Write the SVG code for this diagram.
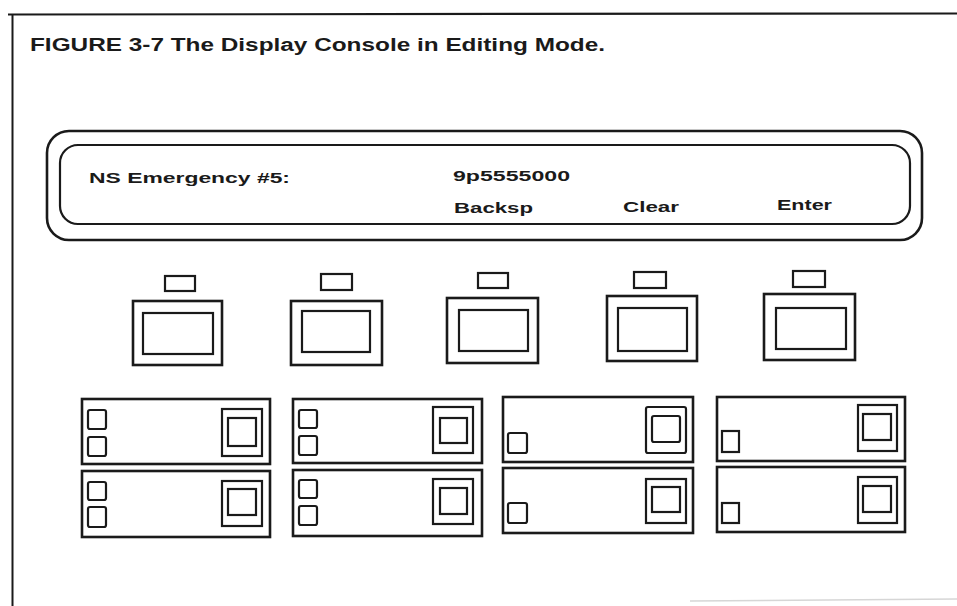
<svg xmlns="http://www.w3.org/2000/svg" width="957" height="606" viewBox="0 0 957 606">
<style>
  text { font-family: "Liberation Sans", Arial, sans-serif; fill: #1a1a1a; font-weight: bold; }
  .title { font-size: 18px; }
  .disp { font-size: 15.5px; }
  .ln { fill: none; stroke: #1a1a1a; }
  .o { fill: none; stroke: #1a1a1a; stroke-width: 2.6; }
  .i { fill: none; stroke: #1a1a1a; stroke-width: 2.2; }
</style>
<rect width="957" height="606" fill="#ffffff"/>
<g id="frame">
  <path class="ln" stroke-width="2.2" d="M8 14.5 L957 13.5"/>
  <path class="ln" stroke-width="2" d="M12.5 14 L12.5 606"/>
  <path fill="none" stroke="#d6d6d6" stroke-width="1.5" d="M690 601 L957 599"/>
</g>
<g id="title">
  <text class="title" x="30" y="51" textLength="575" lengthAdjust="spacingAndGlyphs">FIGURE 3-7  The Display Console in Editing Mode.</text>
</g>
<g id="display">
  <rect class="o" x="47" y="131" width="875" height="109" rx="22"/>
  <rect class="i" x="60" y="145" width="850" height="79" rx="18"/>
  <text class="disp" x="89" y="183" textLength="201" lengthAdjust="spacingAndGlyphs">NS Emergency #5:</text>
  <text class="disp" x="453" y="181" textLength="117" lengthAdjust="spacingAndGlyphs">9p5555000</text>
  <text class="disp" x="454" y="213" textLength="79" lengthAdjust="spacingAndGlyphs">Backsp</text>
  <text class="disp" x="623" y="212" textLength="56" lengthAdjust="spacingAndGlyphs">Clear</text>
  <text class="disp" x="777" y="210" textLength="55" lengthAdjust="spacingAndGlyphs">Enter</text>
</g>
<g id="softkey1">
  <rect class="i" x="165" y="276" width="30" height="15"/>
  <rect class="o" x="133" y="301" width="89" height="64"/>
  <rect class="i" x="143" y="313" width="70" height="41"/>
</g>
<g id="softkey2">
  <rect class="i" x="321" y="274" width="31" height="16"/>
  <rect class="o" x="291" y="301" width="91" height="64"/>
  <rect class="i" x="302" y="311" width="68" height="41"/>
</g>
<g id="softkey3">
  <rect class="i" x="478" y="273" width="30" height="15"/>
  <rect class="o" x="447" y="298" width="91" height="65"/>
  <rect class="i" x="459" y="310" width="69" height="41"/>
</g>
<g id="softkey4">
  <rect class="i" x="634" y="272" width="32" height="16"/>
  <rect class="o" x="607" y="296" width="90" height="65"/>
  <rect class="i" x="618" y="308" width="69" height="43"/>
</g>
<g id="softkey5">
  <rect class="i" x="793" y="271" width="32" height="16"/>
  <rect class="o" x="764" y="294" width="91" height="66"/>
  <rect class="i" x="776" y="308" width="70" height="41"/>
</g>
<g id="line-a1">
  <rect class="o" x="82" y="399" width="188" height="65"/>
  <rect class="i" x="88" y="410" width="18" height="19" rx="2"/>
  <rect class="i" x="88" y="437" width="18" height="19" rx="2"/>
  <rect class="i" x="222" y="409" width="40" height="47"/>
  <rect class="i" x="228" y="418" width="28" height="28"/>
</g>
<g id="line-a2">
  <rect class="o" x="82" y="471" width="188" height="66"/>
  <rect class="i" x="88" y="482" width="18" height="18" rx="2"/>
  <rect class="i" x="88" y="507" width="18" height="20" rx="2"/>
  <rect class="i" x="222" y="481" width="40" height="45"/>
  <rect class="i" x="228" y="489" width="28" height="26"/>
</g>
<g id="line-b1">
  <rect class="o" x="293" y="399" width="189" height="64"/>
  <rect class="i" x="299" y="410" width="18" height="18" rx="2"/>
  <rect class="i" x="299" y="436" width="18" height="19" rx="2"/>
  <rect class="i" x="433" y="407" width="40" height="46"/>
  <rect class="i" x="440" y="418" width="27" height="25"/>
</g>
<g id="line-b2">
  <rect class="o" x="293" y="470" width="189" height="66"/>
  <rect class="i" x="299" y="480" width="18" height="18" rx="2"/>
  <rect class="i" x="299" y="506" width="18" height="19" rx="2"/>
  <rect class="i" x="433" y="479" width="40" height="45"/>
  <rect class="i" x="440" y="488" width="27" height="26"/>
</g>
<g id="line-c1">
  <rect class="o" x="503" y="397" width="190" height="65"/>
  <rect class="i" x="508" y="433" width="19" height="20" rx="2"/>
  <rect class="i" x="646" y="407" width="40" height="46" rx="2"/>
  <rect class="i" x="652" y="416" width="28" height="26" rx="2"/>
</g>
<g id="line-c2">
  <rect class="o" x="503" y="468" width="190" height="65"/>
  <rect class="i" x="508" y="503" width="19" height="20" rx="2"/>
  <rect class="i" x="646" y="479" width="40" height="44"/>
  <rect class="i" x="652" y="487" width="28" height="25"/>
</g>
<g id="line-d1">
  <rect class="o" x="717" y="397" width="188" height="64"/>
  <rect class="i" x="722" y="431" width="17" height="21"/>
  <rect class="i" x="858" y="405" width="39" height="46"/>
  <rect class="i" x="863" y="414" width="28" height="26"/>
</g>
<g id="line-d2">
  <rect class="o" x="717" y="467" width="188" height="65"/>
  <rect class="i" x="722" y="503" width="17" height="20"/>
  <rect class="i" x="858" y="477" width="39" height="46"/>
  <rect class="i" x="863" y="486" width="28" height="26"/>
</g>
<g id="connectors"></g>
</svg>
